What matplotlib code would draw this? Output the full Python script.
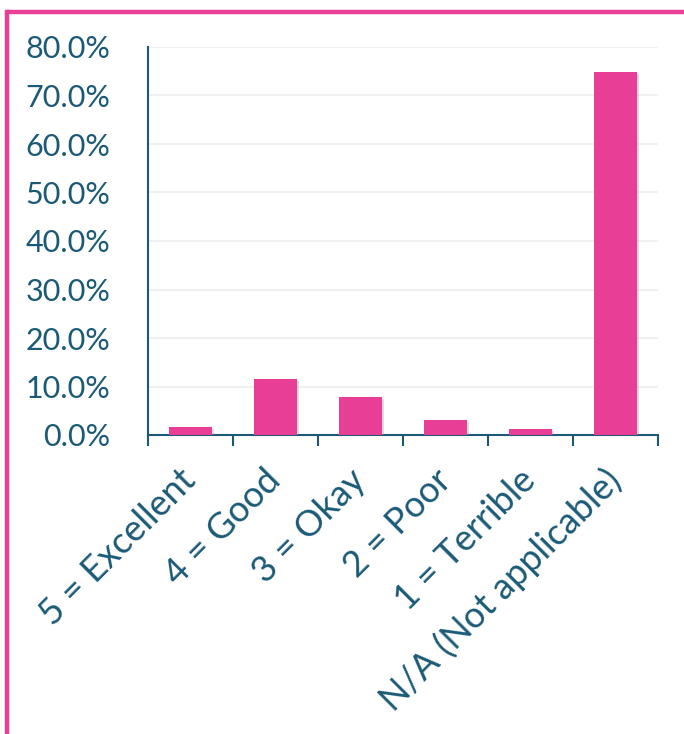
import matplotlib
matplotlib.use("Agg")
import matplotlib.pyplot as plt
from matplotlib.lines import Line2D
from matplotlib.ticker import FuncFormatter, FixedLocator
import matplotlib.patheffects as pe

categories = ["5 = Excellent", "4 = Good", "3 = Okay", "2 = Poor",
              "1 = Terrible", "N/A (Not applicable)"]
shares = [1.6, 11.5, 7.8, 3.0, 1.3, 74.8]
yticks = [0, 10, 20, 30, 40, 50, 60, 70, 80]

pink = "#E83E96"
teal = "#1B5A76"

plt.rcParams['font.family'] = ['Lato', 'DejaVu Sans']

fig = plt.figure(figsize=(6.84, 7.34), dpi=100)
ax = fig.add_axes([148/684, 1-435/734, 510/684, 388/734])

x = range(len(categories))
bars = ax.bar(x, shares, width=0.5, color=pink, zorder=3)
for b in bars:
    b.set_path_effects([pe.SimplePatchShadow(offset=(1.5, -1.5), shadow_rgbFace="#999999", alpha=0.35),
                        pe.Normal()])

ax.set_xlim(-0.5, len(categories) - 0.5)
ax.set_ylim(0, 80)
ax.yaxis.set_major_locator(FixedLocator(yticks))
ax.yaxis.set_major_formatter(FuncFormatter(lambda v, p: f"{v:.1f}%"))
ax.grid(axis='y', color="#EEEEEE", linewidth=1.2, zorder=0)

# category boundaries get the tick marks, labels sit at the centres
ax.set_xticks([i - 0.5 for i in range(len(categories) + 1)])
ax.set_xticklabels([])
ax.set_xticks(list(x), minor=True)
ax.set_xticklabels(categories, minor=True, rotation=45, ha='right', va='center',
                   rotation_mode='anchor', fontsize=26, color=teal)
ax.tick_params(axis='x', which='major', length=8, width=1.5, color=teal, direction='out')
ax.tick_params(axis='x', which='minor', length=0, pad=29)
ax.tick_params(axis='y', length=0, pad=27, labelsize=22, labelcolor=teal)

for s in ['top', 'right']:
    ax.spines[s].set_visible(False)
for s in ['left', 'bottom']:
    ax.spines[s].set_color(teal)
    ax.spines[s].set_linewidth(1.5)

# pink frame on top and left
fig.add_artist(Line2D([6.5/684, 1.0], [1-11.5/734, 1-11.5/734], transform=fig.transFigure,
                      color=pink, linewidth=3.2, solid_capstyle='butt'))
fig.add_artist(Line2D([6.5/684, 6.5/684], [0, 1-11.5/734], transform=fig.transFigure,
                      color=pink, linewidth=3.2, solid_capstyle='projecting'))

fig.savefig("out.png", dpi=100)
